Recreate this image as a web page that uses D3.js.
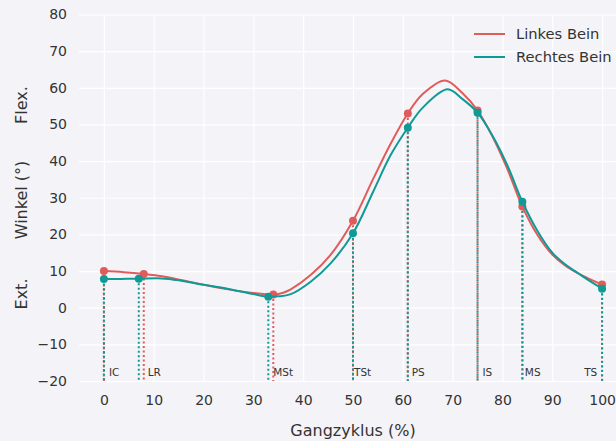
<!DOCTYPE html>
<html>
<head>
<meta charset="utf-8">
<script src="https://cdn.jsdelivr.net/npm/d3@7"></script>
<style>
  body { margin: 0; background: #f4f4f8; }
  text { font-family: "DejaVu Sans", sans-serif; fill: #333; }
</style>
</head>
<body>
<div class="container"></div>
<script>
// gait phases and knee angles at the phase events
const phases = ["IC", "LR", "MSt", "TSt", "PS", "IS", "MS", "TS"];
const leftX = [0, 8, 34, 50, 61, 75, 84, 100];
const leftY = [10, 9.2, 3.6, 23.7, 53, 53.8, 27.6, 6.3];
const rightX = [0, 7, 33, 50, 61, 75, 84, 100];
const rightY = [7.8, 7.9, 3, 20.3, 49.1, 53.2, 28.9, 5.2];
const labelX = [1, 8.8, 34, 50.2, 61.8, 76, 84.5, 96.4];

// knee angle curves over the gait cycle
const leftCurveX = [0, 4, 8, 12, 16, 20, 25, 30, 34, 36, 37.5, 41.5, 45.5, 50, 54, 57.5, 61, 64, 68.5, 72, 75, 78, 81, 84, 87, 90, 92.5, 95, 97.5, 100];
const leftCurveY = [10, 9.7, 9.2, 8.5, 7.4, 6.3, 5.0, 4.0, 3.6, 4.1, 5.0, 8.9, 14.4, 23.7, 35.0, 44.6, 53, 58.3, 62, 58.5, 53.8, 46.7, 37.8, 27.6, 19.9, 14.5, 11.6, 9.5, 7.8, 6.3];
const rightCurveX = [0, 3.5, 7, 11.5, 15, 18.5, 25, 30, 33, 35, 37.5, 41.5, 45.5, 50, 54, 57.5, 61, 64, 69, 72, 75, 78, 81, 84, 87, 90, 92.5, 95, 97.5, 100];
const rightCurveY = [7.8, 7.85, 7.9, 8.0, 7.5, 6.6, 5.1, 3.7, 3.0, 3.1, 3.7, 7.1, 12.1, 20.3, 31.5, 41.5, 49.1, 54.6, 59.6, 56.9, 53.2, 46.9, 38.8, 28.9, 21.0, 15.0, 11.9, 9.6, 7.3, 5.2];

const xTicks = [0, 10, 20, 30, 40, 50, 60, 70, 80, 90, 100];
const yTicks = [-20, -10, 0, 10, 20, 30, 40, 50, 60, 70, 80];

const svgWidth = 616,
    svgHeight = 441;

const margin = { top: 14.5, right: -11, bottom: 60, left: 79 };
const width = svgWidth - margin.left - margin.right;
const height = svgHeight - margin.top - margin.bottom;

const red = "#e05c5a",
    teal = "#0f9a96";

const svg = d3.select(".container")
    .append("svg")
    .attr("width", svgWidth)
    .attr("height", svgHeight)
    .style("background", "#f4f4f8");

const chartGroup = svg.append("g")
    .attr("transform", `translate(${margin.left}, ${margin.top})`);

const x = d3.scaleLinear().domain([-5, 105]).range([0, width]);
const y = d3.scaleLinear().domain([-20, 80]).range([height, 0]);

// background + grid
chartGroup.append("rect")
    .attr("width", width)
    .attr("height", height)
    .attr("fill", "#f4f4f8");

chartGroup.append("g")
    .call(d3.axisBottom(x).tickValues(xTicks).tickSize(height).tickFormat(""))
    .call(g => g.select(".domain").remove())
    .call(g => g.selectAll("line").attr("stroke", "#fff").attr("stroke-width", 1.2));

chartGroup.append("g")
    .call(d3.axisLeft(y).tickValues(yTicks).tickSize(-width).tickFormat(""))
    .call(g => g.select(".domain").remove())
    .call(g => g.selectAll("line").attr("stroke", "#fff").attr("stroke-width", 1.2));

// tick labels
const fmt = d => d < 0 ? "\u2212" + Math.abs(d) : d;
chartGroup.append("g")
    .attr("transform", `translate(0, ${height})`)
    .call(d3.axisBottom(x).tickValues(xTicks).tickSize(0).tickPadding(14).tickFormat(fmt))
    .call(g => g.select(".domain").remove())
    .call(g => g.selectAll("text").attr("font-size", 14).attr("fill", "#333"));

chartGroup.append("g")
    .call(d3.axisLeft(y).tickValues(yTicks).tickSize(0).tickPadding(12).tickFormat(fmt))
    .call(g => g.select(".domain").remove())
    .call(g => g.selectAll("text").attr("font-size", 14).attr("fill", "#333"));

// axis titles
svg.append("text")
    .attr("x", margin.left + width / 2)
    .attr("y", 436)
    .attr("text-anchor", "middle")
    .attr("font-size", 16)
    .text("Gangzyklus (%)");

const yTitles = [["Flex.", 105], ["Winkel (\u00b0)", 200], ["Ext.", 294]];
yTitles.forEach(([t, cy]) => {
    svg.append("text")
        .attr("transform", `translate(27, ${cy}) rotate(-90)`)
        .attr("text-anchor", "middle")
        .attr("font-size", 16)
        .text(t);
});

const legs = [
    { name: "Linkes Bein", xs: leftX, ys: leftY, cx: leftCurveX, cy: leftCurveY, color: red },
    { name: "Rechtes Bein", xs: rightX, ys: rightY, cx: rightCurveX, cy: rightCurveY, color: teal }
];

// dotted phase markers (left first so right sits on top)
legs.forEach(leg => {
    chartGroup.append("g")
        .selectAll("line")
        .data(leg.xs.map((v, i) => [v, leg.ys[i]]))
        .enter()
        .append("line")
        .attr("x1", d => x(d[0]))
        .attr("x2", d => x(d[0]))
        .attr("y1", d => y(d[1]))
        .attr("y2", height)
        .attr("stroke", leg.color)
        .attr("stroke-width", 2)
        .attr("stroke-dasharray", "2,2.5");
});

// smooth curves
const line = d3.line()
    .x(d => x(d[0]))
    .y(d => y(d[1]))
    .curve(d3.curveCatmullRom.alpha(0.5));

legs.forEach(leg => {
    chartGroup.append("path")
        .datum(leg.cx.map((v, i) => [v, leg.cy[i]]))
        .attr("d", line)
        .attr("fill", "none")
        .attr("stroke", leg.color)
        .attr("stroke-width", 2);
    chartGroup.append("g")
        .selectAll("circle")
        .data(leg.xs.map((v, i) => [v, leg.ys[i]]))
        .enter()
        .append("circle")
        .attr("cx", d => x(d[0]))
        .attr("cy", d => y(d[1]))
        .attr("r", 4)
        .attr("fill", leg.color);
});

// phase labels
chartGroup.append("g")
    .selectAll("text")
    .data(phases)
    .enter()
    .append("text")
    .attr("x", (d, i) => x(labelX[i]))
    .attr("y", y(-17.5) + 4)
    .attr("font-size", 10.5)
    .attr("fill", "#333")
    .text(d => d);

// legend
const legend = svg.append("g").attr("transform", "translate(474, 34)");
legs.forEach((leg, i) => {
    legend.append("line")
        .attr("x1", 0).attr("x2", 31)
        .attr("y1", i * 23).attr("y2", i * 23)
        .attr("stroke", leg.color)
        .attr("stroke-width", 2);
    legend.append("text")
        .attr("x", 42)
        .attr("y", i * 23 + 5)
        .attr("font-size", 14.7)
        .text(leg.name);
});
</script>
</body>
</html>
